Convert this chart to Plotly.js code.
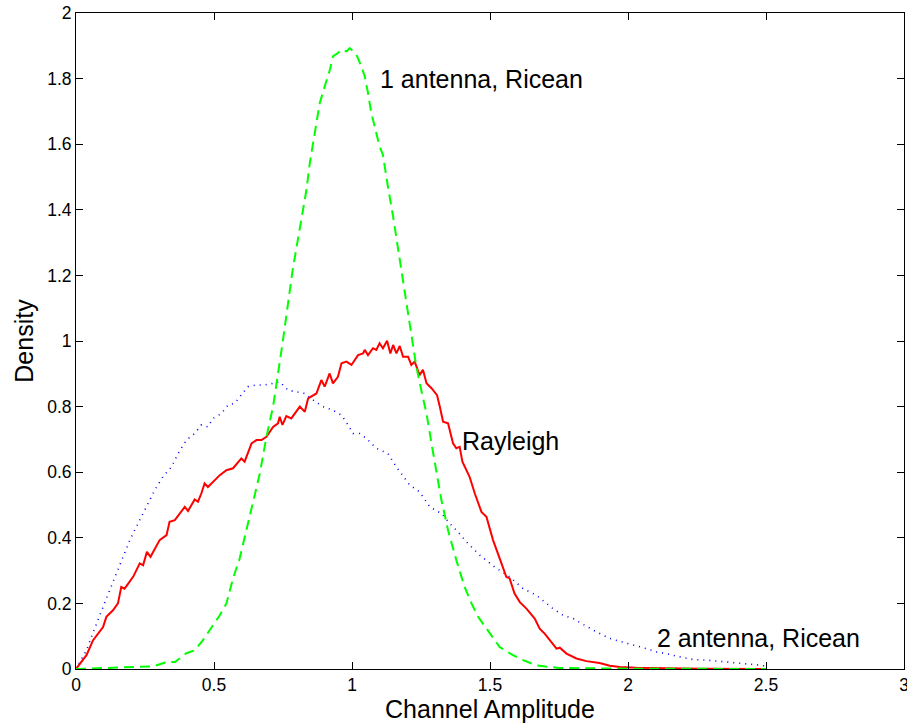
<!DOCTYPE html>
<html>
<head>
<meta charset="utf-8">
<script src="https://cdn.plot.ly/plotly-3.0.1.min.js"></script>
<style>html,body{margin:0;padding:0;background:#fff;}#chart{width:907px;height:725px;}</style>
</head>
<body>
<div id="chart"></div>
<script>
// Rayleigh (red, solid)
const rayleighX = [0,0.005,0.038,0.062,0.098,0.110,0.134,0.152,0.164,0.176,0.207,0.231,0.243,0.257,0.270,0.303,0.328,0.339,0.358,0.394,0.406,0.430,0.442,0.454,0.466,0.478,0.521,0.545,0.569,0.599,0.611,0.636,0.654,0.672,0.690,0.714,0.732,0.738,0.748,0.762,0.780,0.811,0.829,0.841,0.871,0.889,0.901,0.919,0.931,0.949,0.962,0.980,0.998,1.022,1.040,1.046,1.058,1.076,1.088,1.100,1.112,1.127,1.139,1.149,1.161,1.173,1.185,1.203,1.215,1.227,1.245,1.257,1.270,1.288,1.308,1.318,1.330,1.348,1.366,1.378,1.390,1.400,1.426,1.445,1.469,1.487,1.511,1.535,1.559,1.571,1.589,1.608,1.632,1.662,1.680,1.698,1.728,1.741,1.753,1.777,1.813,1.849,1.897,1.934,1.970,2.030,2.260,2.500];
const rayleighY = [0,0.006,0.042,0.088,0.128,0.159,0.179,0.200,0.250,0.245,0.281,0.322,0.316,0.357,0.342,0.393,0.408,0.449,0.454,0.494,0.482,0.517,0.510,0.535,0.566,0.555,0.591,0.606,0.612,0.642,0.632,0.688,0.698,0.698,0.708,0.738,0.749,0.769,0.744,0.771,0.764,0.800,0.784,0.825,0.840,0.881,0.861,0.901,0.871,0.891,0.932,0.937,0.927,0.957,0.962,0.973,0.957,0.978,0.973,0.993,0.978,1.001,0.962,0.988,0.962,0.985,0.952,0.952,0.927,0.937,0.896,0.912,0.871,0.856,0.835,0.800,0.754,0.749,0.688,0.673,0.677,0.632,0.586,0.535,0.479,0.464,0.393,0.337,0.281,0.276,0.230,0.204,0.184,0.154,0.123,0.108,0.078,0.062,0.065,0.047,0.032,0.024,0.018,0.010,0.006,0.004,0.001,0];

// 1 antenna, Ricean (green, dashed)
const ricean1X = [0,0.25,0.28,0.328,0.358,0.400,0.430,0.460,0.503,0.521,0.545,0.569,0.593,0.617,0.641,0.666,0.690,0.714,0.732,0.750,0.785,0.817,0.835,0.847,0.865,0.883,0.901,0.920,0.931,0.949,0.962,0.980,0.992,1.004,1.016,1.034,1.046,1.058,1.070,1.088,1.100,1.112,1.118,1.130,1.149,1.197,1.215,1.233,1.251,1.270,1.288,1.306,1.324,1.348,1.378,1.408,1.433,1.457,1.499,1.535,1.583,1.620,1.668,1.750,2.000,2.500];
const ricean1Y = [0,0.006,0.008,0.021,0.021,0.048,0.057,0.088,0.139,0.164,0.200,0.276,0.337,0.423,0.515,0.596,0.708,0.800,0.901,1.003,1.217,1.379,1.461,1.542,1.634,1.725,1.776,1.827,1.868,1.878,1.888,1.883,1.893,1.883,1.873,1.837,1.807,1.756,1.695,1.634,1.593,1.568,1.532,1.471,1.379,1.125,1.023,0.922,0.850,0.779,0.688,0.596,0.515,0.423,0.332,0.250,0.200,0.159,0.108,0.067,0.042,0.027,0.011,0.003,0.001,0];

// 2 antenna, Ricean (blue, dotted)
const ricean2X = [0,0.020,0.038,0.056,0.074,0.098,0.122,0.146,0.170,0.195,0.225,0.255,0.285,0.315,0.346,0.370,0.400,0.430,0.454,0.478,0.496,0.527,0.551,0.575,0.599,0.623,0.654,0.684,0.714,0.738,0.768,0.799,0.829,0.859,0.895,0.931,0.962,0.986,1.004,1.028,1.052,1.088,1.130,1.161,1.209,1.245,1.282,1.324,1.354,1.384,1.420,1.463,1.517,1.571,1.620,1.668,1.704,1.728,1.764,1.801,1.831,1.886,1.934,1.982,2.030,2.067,2.103,2.139,2.187,2.236,2.284,2.357,2.429,2.489,2.500];
const ricean2Y = [0,0.032,0.057,0.098,0.139,0.189,0.240,0.291,0.342,0.393,0.444,0.494,0.545,0.586,0.616,0.657,0.698,0.718,0.744,0.738,0.764,0.779,0.805,0.810,0.835,0.861,0.866,0.866,0.871,0.876,0.850,0.845,0.840,0.820,0.800,0.789,0.774,0.744,0.718,0.718,0.703,0.673,0.657,0.616,0.561,0.540,0.494,0.474,0.444,0.418,0.383,0.347,0.311,0.281,0.245,0.225,0.200,0.184,0.164,0.154,0.139,0.113,0.093,0.082,0.072,0.062,0.052,0.047,0.037,0.029,0.027,0.021,0.016,0.011,0.005];

const xTicks = [0,0.5,1,1.5,2,2.5,3];
const xTickText = ['0','0.5','1','1.5','2','2.5','3'];
const yTicks = [0,0.2,0.4,0.6,0.8,1,1.2,1.4,1.6,1.8,2];
const yTickText = ['0','0.2','0.4','0.6','0.8','1','1.2','1.4','1.6','1.8','2'];

const labels = ['1 antenna, Ricean','Rayleigh','2 antenna, Ricean'];
const labelX = [1.095,1.390,2.097];
const labelY = [1.80,0.695,0.095];

const FONT = 'Liberation Sans, Arial, Helvetica, sans-serif';

const traces = [
  {x: ricean2X, y: ricean2Y, mode:'lines', line:{color:'#0000ff', width:1.6, dash:'1px,5px'}, hoverinfo:'skip'},
  {x: rayleighX, y: rayleighY, mode:'lines', line:{color:'#ff0000', width:2}, hoverinfo:'skip'},
  {x: ricean1X, y: ricean1Y, mode:'lines', line:{color:'#00ff00', width:2, dash:'10px,6px'}, hoverinfo:'skip'}
];

const axisCommon = {
  showline:true, linecolor:'#000', linewidth:1, mirror:'ticks',
  ticks:'inside', ticklen:7, tickcolor:'#000', tickwidth:1,
  showgrid:false, zeroline:false, tickmode:'array',
  ticklabeloverflow:'allow',
  tickfont:{family:FONT, size:17.5, color:'#000'}
};

const layout = {
  width:907, height:725,
  margin:{l:76, r:3, t:13, b:56, pad:0},
  paper_bgcolor:'#fff', plot_bgcolor:'#fff',
  showlegend:false,
  font:{family:FONT, color:'#000'},
  xaxis: Object.assign({}, axisCommon, {
    range:[0,3], tickvals:xTicks, ticktext:xTickText,
    title:{text:'Channel Amplitude', font:{family:FONT, size:25, color:'#000'}, standoff:4}
  }),
  yaxis: Object.assign({}, axisCommon, {
    range:[0,2], tickvals:yTicks, ticktext:yTickText,
    title:{text:'Density', font:{family:FONT, size:25, color:'#000'}, standoff:6}
  }),
  annotations: labels.map((t,i)=>({
    text:t, x:labelX[i], y:labelY[i], xref:'x', yref:'y',
    xanchor:'left', yanchor:'middle', showarrow:false,
    font:{family:FONT, size:25, color:'#000'}
  }))
};

Plotly.newPlot('chart', traces, layout, {displayModeBar:false, staticPlot:true});
</script>
</body>
</html>
